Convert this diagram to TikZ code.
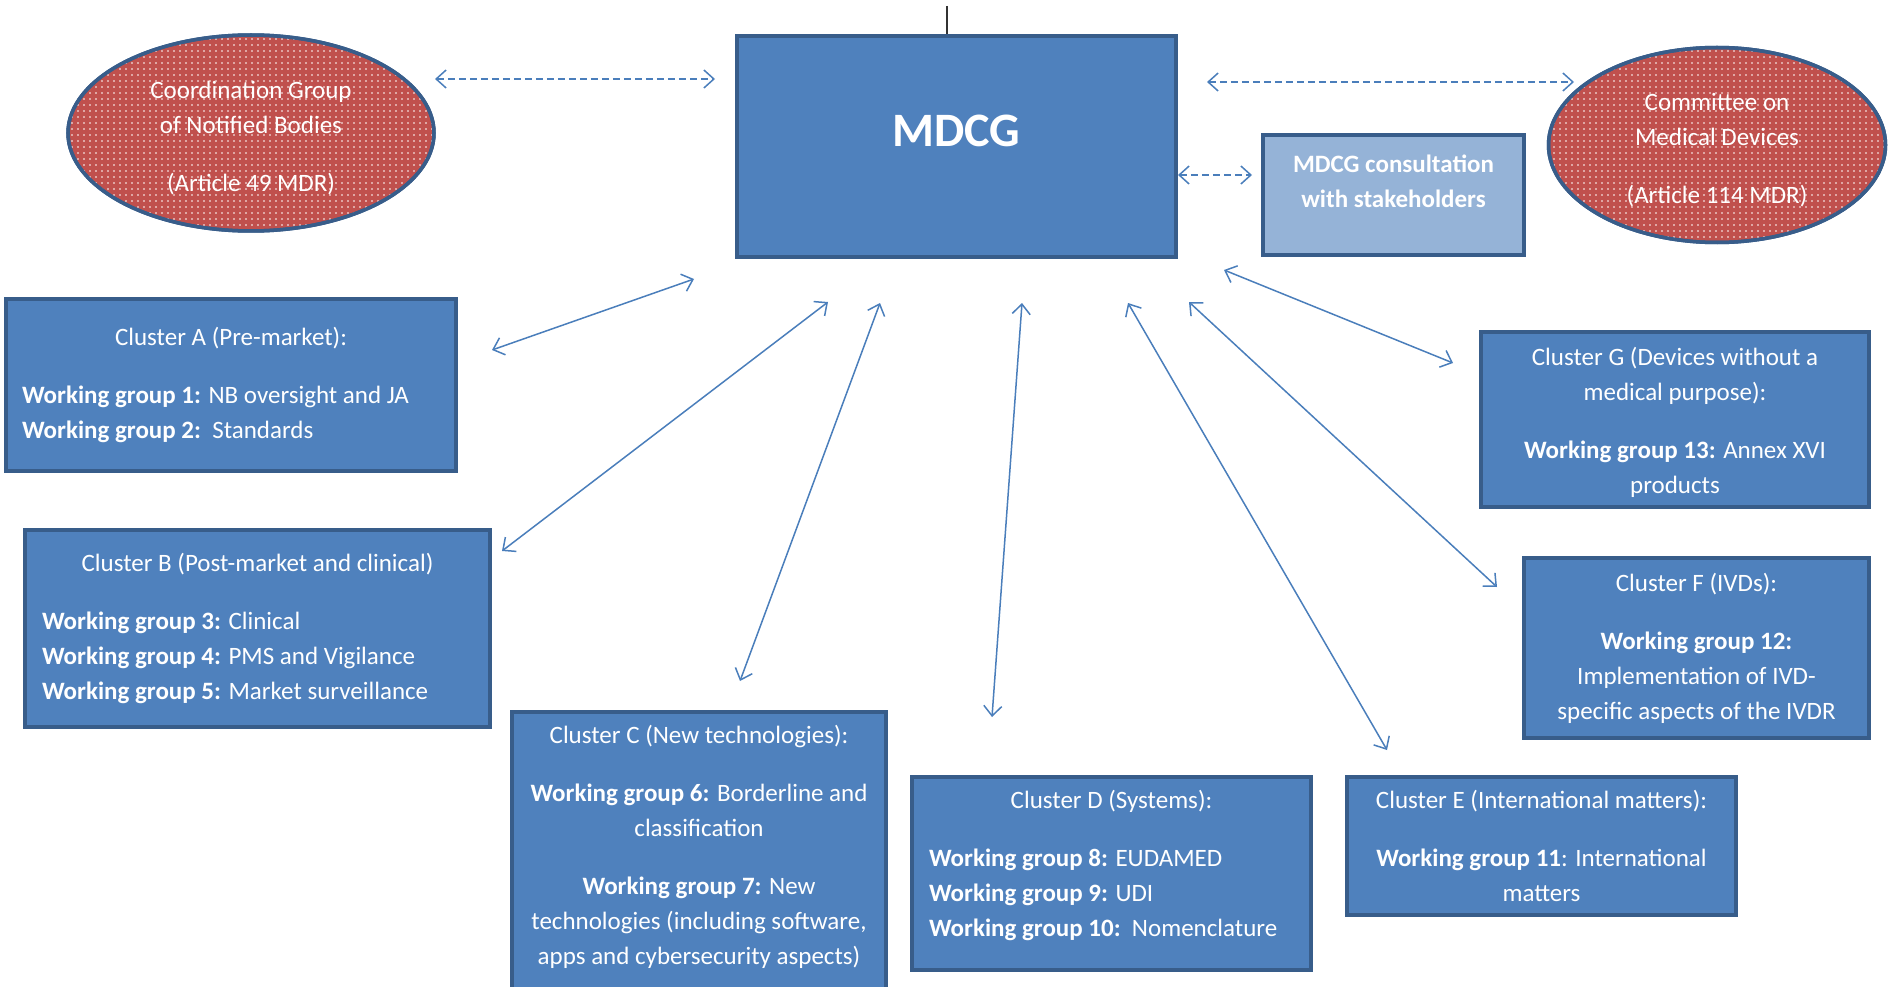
\documentclass[tikz,border=0pt]{standalone}
\usepackage{fontspec}
\setmainfont{Carlito}
\usetikzlibrary{shapes.geometric,arrows.meta,patterns.meta}
\definecolor{boxfill}{HTML}{4F81BD}
\definecolor{boxline}{HTML}{385D8A}
\definecolor{consfill}{HTML}{95B3D7}
\definecolor{ellfill}{HTML}{C0504D}
\definecolor{arrowc}{HTML}{4A7EBB}
\newcommand{\wgl}[2]{\makebox[#1][l]{#2}}
\newcommand{\toppad}[1]{\rule{0pt}{#1}}
\newcommand{\botpad}[1]{\rule[-#1]{0pt}{#1}}
\begin{document}
\begin{tikzpicture}[x=1pt,y=-1pt,
  txt/.style={font=\fontsize{25pt}{35pt}\selectfont, text=white, align=center},
  cbox/.style={draw=boxline, line width=3.5pt, fill=boxfill, txt, inner sep=0pt},
  ell/.style={ellipse, draw=boxline, line width=3.5pt, fill=ellfill,
    postaction={pattern={Dots[distance=6pt,radius=0.9pt]}, pattern color=white},
    postaction={draw=boxline, line width=3.5pt}, txt, inner sep=0pt},
  link/.style={draw=arrowc, line width=1.5pt,
    {Straight Barb[length=10pt,width=18pt]}-{Straight Barb[length=10pt,width=18pt]}},
  dlink/.style={link, dash pattern=on 7pt off 4pt},
]
\useasboundingbox (0,0) rectangle (1890,987);

% central box
\node[cbox, minimum width=439pt, minimum height=221pt,
  font=\fontsize{48pt}{48pt}\selectfont\bfseries, text height=18pt, text depth=18pt]
  (mdcg) at (956.5,146.5) {MDCG};
\coordinate (tick) at (947,6);
\draw[line width=2pt, black!80] (tick) -- (tick |- mdcg.north);

% consultation
\node[cbox, fill=consfill, minimum width=261pt, minimum height=120pt] (consult) at (1393.5,195) {};
\node[txt, font=\fontsize{25pt}{35pt}\selectfont\bfseries] (consulttext) at (1393.5,181)
  {MDCG consultation\\with stakeholders};

% ellipses
\node[ell, minimum width=366pt, minimum height=196pt] (ellL) at (251,133)
  {\toppad{27pt}Coordination Group\\of Notified Bodies\\[23pt](Article 49 MDR)};
\node[ell, minimum width=337pt, minimum height=195pt] (ellR) at (1717,145)
  {\toppad{28pt}Committee on\\Medical Devices\\[23pt](Article 114 MDR)};

% clusters
\node[cbox, minimum width=450pt, minimum height=172pt] (clA) at (231,385)
  {Cluster A (Pre-market):\\[23pt]
   \wgl{418pt}{\textbf{Working group 1:} NB oversight and JA}\\
   \wgl{418pt}{\textbf{Working group 2:}\ \ Standards}};

\node[cbox, minimum width=465pt, minimum height=197pt] (clB) at (257.5,628.5)
  {Cluster B (Post-market and clinical)\\[23pt]
   \wgl{431pt}{\textbf{Working group 3:} Clinical}\\
   \wgl{431pt}{\textbf{Working group 4:} PMS and Vigilance}\\
   \wgl{431pt}{\textbf{Working group 5:} Market surveillance}};

\node[cbox, minimum width=374pt, minimum height=281pt] (clC) at (699,852.5)
  {Cluster C (New technologies):\\[23pt]
   \textbf{Working group 6:} Borderline and\\classification\\[23pt]
   \textbf{Working group 7:} New\\technologies (including software,\\apps and cybersecurity aspects)\botpad{16pt}};

\node[cbox, minimum width=399pt, minimum height=193pt] (clD) at (1111.5,873.5)
  {Cluster D (Systems):\\[23pt]
   \wgl{365pt}{\textbf{Working group 8:} EUDAMED}\\
   \wgl{365pt}{\textbf{Working group 9:} UDI}\\
   \wgl{365pt}{\textbf{Working group 10:}\ \ Nomenclature}\botpad{20pt}};

\node[cbox, minimum width=389pt, minimum height=138pt] (clE) at (1541.5,846)
  {Cluster E (International matters):\\[23pt]
   \textbf{Working group 11}: International\\matters};

\node[cbox, minimum width=345pt, minimum height=180pt] (clF) at (1696.5,648)
  {Cluster F (IVDs):\\[23pt]
   \textbf{Working group 12:}\\Implementation of IVD-\\specific aspects of the IVDR};

\node[cbox, minimum width=388pt, minimum height=175pt] (clG) at (1675,419.5)
  {\toppad{25pt}Cluster G (Devices without a\\medical purpose):\\[23pt]
   \textbf{Working group 13:} Annex XVI\\products};

% connector end points
\coordinate (aA1) at (492,350);  \coordinate (aA2) at (694,279);
\coordinate (aB1) at (502,551);  \coordinate (aB2) at (828,302);
\coordinate (aC1) at (740,681);  \coordinate (aC2) at (880,303);
\coordinate (aD1) at (992,717);  \coordinate (aD2) at (1022,303);
\coordinate (aE1) at (1387,750); \coordinate (aE2) at (1128,303);
\coordinate (aF1) at (1497,587); \coordinate (aF2) at (1189,302);
\coordinate (aG1) at (1453,363); \coordinate (aG2) at (1224,270);
\coordinate (dL1) at (435,79);   \coordinate (dL2) at (715,79);
\coordinate (dR1) at (1207,82);  \coordinate (dR2) at (1574,82);
\coordinate (dS1) at (1178,175); \coordinate (dS2) at (1252,175);

\draw[link] (aA1) -- (aA2);
\draw[link] (aB1) -- (aB2);
\draw[link] (aC1) -- (aC2);
\draw[link] (aD1) -- (aD2);
\draw[link] (aE1) -- (aE2);
\draw[link] (aF1) -- (aF2);
\draw[link] (aG1) -- (aG2);
\draw[dlink] (dL1) -- (dL2);
\draw[dlink] (dR1) -- (dR2);
\draw[dlink] (dS1) -- (dS2);
\end{tikzpicture}
\end{document}
